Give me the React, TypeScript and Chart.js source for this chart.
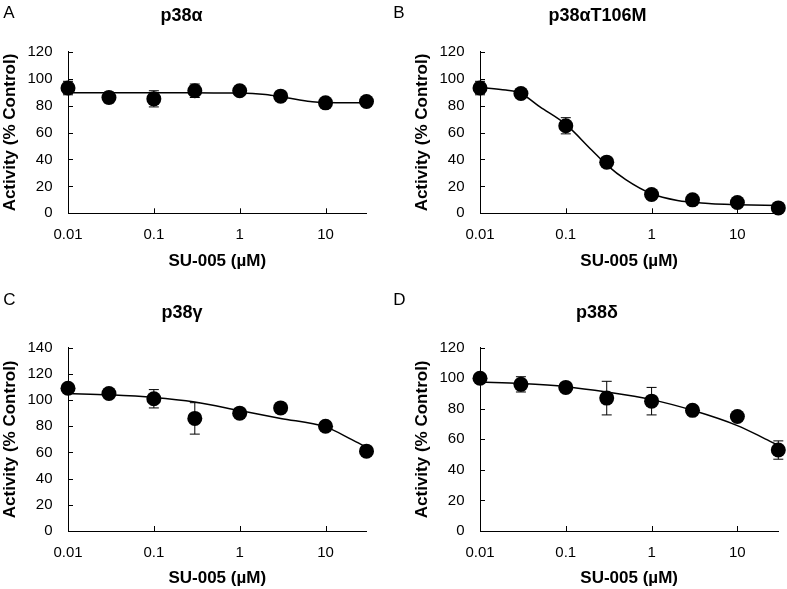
import React, { useEffect, useRef } from "react";
import { Chart, registerables } from "chart.js";

Chart.register(...registerables);

// ---------- data ----------
const concentrations = [0.01, 0.03, 0.1, 0.3, 1, 3, 10, 30];
const xTickValues = [0.01, 0.1, 1, 10];
const xTickLabels = ["0.01", "0.1", "1", "10"];
const xAxisTitle = "SU-005 (µM)";
const yAxisTitle = "Activity (% Control)";

// A: p38α
const p38aValues = [93, 86, 85, 91, 91, 87, 82, 83];
const p38aErrors = [5, 4, 6, 5, 3, 2, 2, 3];
const p38aCurveX = [0.01, 0.1, 0.5, 1, 2, 3, 5, 7, 10, 20, 30];
const p38aCurveY = [89.5, 89.5, 89.4, 89.3, 88.2, 86.6, 84.2, 82.9, 82.3, 82.1, 82.1];

// B: p38αT106M
const t106mValues = [93, 89, 65, 38, 14, 10, 8, 4];
const t106mErrors = [5, 2, 6, 3, 2, 1, 1, 1];
const t106mCurveX = [0.01, 0.02, 0.03, 0.05, 0.1, 0.2, 0.3, 0.5, 1, 2, 3, 5, 10, 30];
const t106mCurveY = [93.5, 91.5, 89, 79, 66, 47, 36, 25, 14.5, 9.5, 8.3, 7, 6.4, 5.8];

// C: p38γ
const p38gValues = [109, 105, 101, 86, 90, 94, 80, 61];
const p38gErrors = [2, 2, 7, 12, 2, 2, 2, 2];
const p38gCurveX = [0.01, 0.03, 0.1, 0.3, 1, 3, 10, 20, 30];
const p38gCurveY = [105, 104, 102, 98.5, 92, 86, 79.5, 70, 64];

// D: p38δ
const p38dValues = [100, 96, 94, 87, 85, 79, 75, 53];
const p38dErrors = [3, 5, 2, 11, 9, 2, 2, 6];
const p38dCurveX = [0.01, 0.03, 0.1, 0.3, 1, 3, 10, 20, 30];
const p38dCurveY = [97.5, 96.5, 94.5, 91, 86, 79, 69, 61, 56];

const FONT = "'Liberation Sans', Arial, Helvetica, sans-serif";

type PanelProps = {
  letter: string;
  title: string;
  values: number[];
  errors: number[];
  curveX: number[];
  curveY: number[];
  yMax: number;
  left: number;
  top: number;
  width: number;
  height: number;
  padLeft: number;
  plotTop: number;
  plotBottom: number;
  plotRight: number;
  letterX: number;
  letterY: number;
  titleX: number;
  titleY: number;
};

function Panel(p: PanelProps) {
  const ref = useRef<HTMLCanvasElement | null>(null);

  useEffect(() => {
    const canvas = ref.current;
    if (!canvas) return;

    const errorBars = {
      id: "errorBars",
      beforeDatasetsDraw(chart: any) {
        const { ctx } = chart;
        const xs = chart.scales.x;
        const ys = chart.scales.y;
        ctx.save();
        ctx.strokeStyle = "#000";
        ctx.lineWidth = 1;
        ctx.beginPath();
        concentrations.forEach((c, i) => {
          const px = xs.getPixelForValue(c);
          const hi = ys.getPixelForValue(p.values[i] + p.errors[i]);
          const lo = ys.getPixelForValue(p.values[i] - p.errors[i]);
          ctx.moveTo(px, hi);
          ctx.lineTo(px, lo);
          ctx.moveTo(px - 5, hi);
          ctx.lineTo(px + 5, hi);
          ctx.moveTo(px - 5, lo);
          ctx.lineTo(px + 5, lo);
        });
        ctx.stroke();
        ctx.restore();
      },
    };

    const tickMarks = {
      id: "tickMarks",
      beforeDatasetsDraw(chart: any) {
        const { ctx } = chart;
        const xs = chart.scales.x;
        const ys = chart.scales.y;
        ctx.save();
        ctx.strokeStyle = "#000";
        ctx.lineWidth = 1;
        ctx.beginPath();
        for (const t of ys.ticks) {
          const py = Math.round(ys.getPixelForValue(t.value)) + 0.5;
          ctx.moveTo(xs.left, py);
          ctx.lineTo(xs.left + 5, py);
        }
        for (const t of xs.ticks) {
          const px = Math.round(xs.getPixelForValue(t.value)) + 0.5;
          ctx.moveTo(px, ys.bottom);
          ctx.lineTo(px, ys.bottom - 5);
        }
        ctx.stroke();
        ctx.restore();
      },
    };

    const headings = {
      id: "headings",
      afterDraw(chart: any) {
        const { ctx } = chart;
        ctx.save();
        ctx.fillStyle = "#000";
        ctx.textBaseline = "alphabetic";
        ctx.textAlign = "left";
        ctx.font = `17px ${FONT}`;
        ctx.fillText(p.letter, p.letterX, p.letterY);
        ctx.textAlign = "center";
        ctx.font = `bold 18px ${FONT}`;
        ctx.fillText(p.title, p.titleX, p.titleY);
        ctx.restore();
      },
    };

    const chart = new Chart(canvas, {
      type: "scatter",
      data: {
        datasets: [
          {
            type: "line",
            data: p.curveX.map((x, i) => ({ x, y: p.curveY[i] })),
            borderColor: "#000",
            backgroundColor: "#000",
            borderWidth: 1.5,
            pointRadius: 0,
            cubicInterpolationMode: "monotone",
            fill: false,
            clip: false,
            order: 2,
          } as any,
          {
            data: concentrations.map((x, i) => ({ x, y: p.values[i] })),
            backgroundColor: "#000",
            borderColor: "#000",
            borderWidth: 0,
            pointRadius: 7.5,
            pointHoverRadius: 7.5,
            showLine: false,
            clip: false,
            order: 1,
          } as any,
        ],
      },
      options: {
        responsive: false,
        animation: false,
        events: [],
        layout: {
          padding: {
            left: p.padLeft,
            right: p.width - p.plotRight,
            top: p.plotTop,
            bottom: 0,
          },
        },
        plugins: {
          legend: { display: false },
          tooltip: { enabled: false },
          title: { display: false },
        },
        scales: {
          x: {
            type: "logarithmic",
            position: "bottom",
            min: 0.01,
            max: 30,
            afterBuildTicks: (s: any) => {
              s.ticks = xTickValues.map((v) => ({ value: v }));
            },
            afterFit: (s: any) => {
              s.height = p.height - p.plotBottom;
            },
            ticks: {
              autoSkip: false,
              maxRotation: 0,
              minRotation: 0,
              padding: 12.5,
              color: "#000",
              font: { family: FONT, size: 15 },
              callback: (v: any) => {
                const i = xTickValues.indexOf(Number(v));
                return i >= 0 ? xTickLabels[i] : "";
              },
            },
            grid: { display: false, drawTicks: false },
            border: { display: true, color: "#000", width: 1 },
            title: {
              display: true,
              text: xAxisTitle,
              color: "#000",
              font: { family: FONT, size: 17, weight: "bold" },
              padding: { top: 0, bottom: 0.5 },
            },
          },
          y: {
            type: "linear",
            position: "left",
            min: 0,
            max: p.yMax,
            afterFit: (s: any) => {
              s.width = 68;
            },
            ticks: {
              stepSize: 20,
              padding: 15.5,
              color: "#000",
              font: { family: FONT, size: 15 },
            },
            grid: { display: false, drawTicks: false },
            border: { display: true, color: "#000", width: 1 },
            title: {
              display: true,
              text: yAxisTitle,
              color: "#000",
              font: { family: FONT, size: 17, weight: "bold" },
              padding: { top: 0.5, bottom: 0 },
            },
          },
        },
      } as any,
      plugins: [tickMarks, errorBars, headings],
    });

    return () => chart.destroy();
  }, []);

  return (
    <canvas
      ref={ref}
      width={p.width}
      height={p.height}
      style={{
        position: "absolute",
        left: p.left,
        top: p.top,
        width: p.width,
        height: p.height,
      }}
    />
  );
}

export default function App() {
  return (
    <div
      style={{
        position: "fixed",
        left: 0,
        top: 0,
        width: 787,
        height: 589,
        overflow: "hidden",
        background: "#fff",
      }}
    >
      <Panel
        letter="A"
        title="p38α"
        values={p38aValues}
        errors={p38aErrors}
        curveX={p38aCurveX}
        curveY={p38aCurveY}
        yMax={120}
        left={0}
        top={0}
        width={393}
        height={272}
        padLeft={0}
        plotTop={51.7}
        plotBottom={213.3}
        plotRight={366.5}
        letterX={3.3}
        letterY={18.3}
        titleX={181.5}
        titleY={20.5}
      />
      <Panel
        letter="B"
        title="p38αT106M"
        values={t106mValues}
        errors={t106mErrors}
        curveX={t106mCurveX}
        curveY={t106mCurveY}
        yMax={120}
        left={393}
        top={0}
        width={394}
        height={272}
        padLeft={19}
        plotTop={51.7}
        plotBottom={213.3}
        plotRight={385.3}
        letterX={0.3}
        letterY={18.3}
        titleX={204.5}
        titleY={20.5}
      />
      <Panel
        letter="C"
        title="p38γ"
        values={p38gValues}
        errors={p38gErrors}
        curveX={p38gCurveX}
        curveY={p38gCurveY}
        yMax={140}
        left={0}
        top={290}
        width={393}
        height={299}
        padLeft={0}
        plotTop={57.7}
        plotBottom={241}
        plotRight={366.5}
        letterX={3.3}
        letterY={15}
        titleX={182}
        titleY={28.3}
      />
      <Panel
        letter="D"
        title="p38δ"
        values={p38dValues}
        errors={p38dErrors}
        curveX={p38dCurveX}
        curveY={p38dCurveY}
        yMax={120}
        left={393}
        top={290}
        width={394}
        height={299}
        padLeft={19}
        plotTop={57.7}
        plotBottom={241}
        plotRight={385.3}
        letterX={0.3}
        letterY={15}
        titleX={204}
        titleY={28.3}
      />
    </div>
  );
}
